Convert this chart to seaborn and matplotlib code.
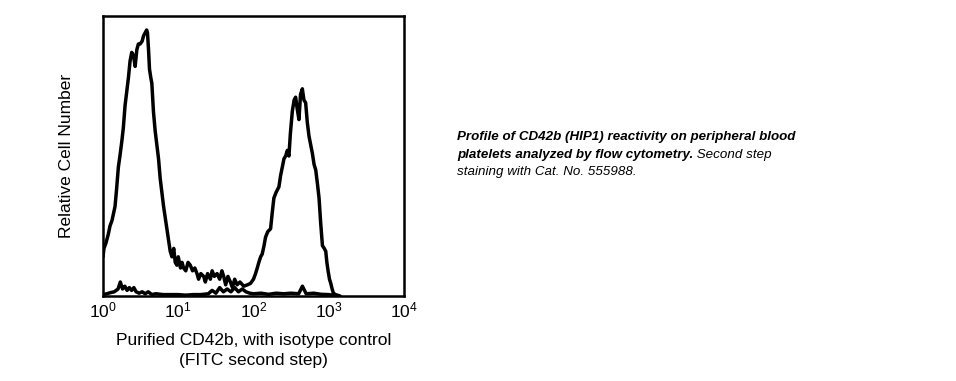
import matplotlib
matplotlib.use("Agg")
import matplotlib.pyplot as plt
import seaborn as sns
import numpy as np
import pandas as pd

# ---- data (log10 fluorescence position, relative cell number) ----
stained_log = [0.0, 0.013, 0.04, 0.07, 0.093, 0.12, 0.16, 0.18, 0.204, 0.225, 0.249, 0.27, 0.293, 0.315,
               0.338, 0.36, 0.382, 0.405, 0.427, 0.45, 0.47, 0.493, 0.52, 0.54, 0.56, 0.58, 0.591, 0.605,
               0.618, 0.635, 0.649, 0.67, 0.693, 0.715, 0.738, 0.76, 0.782, 0.805, 0.827, 0.85, 0.871,
               0.893, 0.916, 0.94, 0.96, 0.982, 1.0, 1.03, 1.05, 1.071, 1.1, 1.13, 1.16, 1.19, 1.22,
               1.249, 1.27, 1.30, 1.338, 1.36, 1.39, 1.427, 1.45, 1.48, 1.516, 1.55, 1.58, 1.604, 1.63,
               1.66, 1.693, 1.72, 1.75, 1.782, 1.82, 1.871, 1.92, 1.96, 2.0, 2.027, 2.05, 2.071, 2.095,
               2.116, 2.14, 2.16, 2.19, 2.227, 2.25, 2.271, 2.30, 2.338, 2.36, 2.382, 2.405, 2.427, 2.45,
               2.471, 2.49, 2.516, 2.54, 2.56, 2.58, 2.604, 2.625, 2.649, 2.67, 2.693, 2.715, 2.738, 2.76,
               2.782, 2.805, 2.827, 2.85, 2.871, 2.893, 2.916, 2.94, 2.96, 2.975, 2.991, 3.01, 3.027,
               3.045, 3.062, 3.09, 3.116, 3.15]
stained_val = [14, 17, 19, 22, 25, 27, 32, 38, 46, 50, 55, 60, 68, 73,
               78, 84, 87, 86, 82, 88, 90, 90, 91, 93, 94, 95, 94, 88,
               81, 78, 76, 66, 59, 54, 49, 42, 37, 32, 28, 24, 20,
               16, 14, 17, 12, 11, 14, 10, 12, 10, 9, 12, 11, 9, 10,
               8, 6, 8, 7, 5, 8, 6, 9, 7, 8, 6, 9, 7, 4,
               7, 5, 3, 6, 4, 5, 3.5, 4, 4.5, 6, 8, 10, 12, 14,
               15, 18, 21, 23, 24, 30, 35, 37, 39, 43, 46, 49, 50, 52,
               50, 58, 66, 70, 71, 67, 63, 72, 74, 70, 69, 62, 57, 54,
               51, 47, 45, 40, 35, 26, 18, 17, 16, 12, 9, 6, 4.5,
               2.5, 1, 0.5, 0.3, 0]

isotype_log = [0.0, 0.05, 0.1, 0.15, 0.2, 0.23, 0.26, 0.29, 0.32, 0.35, 0.38, 0.41, 0.44, 0.48, 0.52,
               0.56, 0.6, 0.65, 0.7, 0.8, 0.9, 1.0, 1.1, 1.2, 1.3, 1.4, 1.45, 1.5, 1.55, 1.6, 1.65,
               1.7, 1.75, 1.8, 1.85, 1.9, 1.95, 2.0, 2.1, 2.2, 2.3, 2.4, 2.5, 2.6, 2.65, 2.7, 2.8,
               2.9, 3.0, 3.05, 3.1]
isotype_val = [0.5, 0.8, 1.2, 1.5, 2.5, 5, 2.5, 3.5, 2, 3, 2, 3, 1.5, 1, 1.5,
               0.8, 1.5, 0.5, 0.8, 0.5, 0.5, 0.5, 0.3, 0.5, 0.5, 0.8, 2, 1, 3, 1.5, 2.5,
               1.5, 3, 1.5, 2.5, 1.5, 1, 0.8, 1, 0.6, 1, 0.8, 1, 0.8, 3.5, 0.8, 1,
               0.6, 0.5, 0.3, 0]

tick_values = [1, 10, 100, 1000, 10000]
tick_labels = [r"$10^0$", r"$10^1$", r"$10^2$", r"$10^3$", r"$10^4$"]

xlabel = "Purified CD42b, with isotype control\n(FITC second step)"
ylabel = "Relative Cell Number"
cap_bold1 = "Profile of CD42b (HIP1) reactivity on peripheral blood"
cap_bold2 = "platelets analyzed by flow cytometry."
cap_ital2 = " Second step"
cap_ital3 = "staining with Cat. No. 555988."

# ---- style ----
sns.set_style("white")
plt.rcParams["font.family"] = ["Liberation Sans", "DejaVu Sans"]
plt.rcParams["mathtext.fontset"] = "custom"
plt.rcParams["mathtext.rm"] = "Liberation Sans"
plt.rcParams["mathtext.it"] = "Liberation Sans:italic"
plt.rcParams["mathtext.default"] = "rm"
plt.rcParams["text.color"] = "black"
plt.rcParams["axes.labelcolor"] = "black"
plt.rcParams["xtick.color"] = "black"

df = pd.concat([
    pd.DataFrame({"x": np.power(10.0, stained_log), "y": stained_val, "series": "CD42b"}),
    pd.DataFrame({"x": np.power(10.0, isotype_log), "y": isotype_val, "series": "isotype"}),
])

fig = plt.figure(figsize=(9.56, 3.81), dpi=100)
ax = fig.add_axes([103 / 956, 1 - 296 / 381, 301 / 956, 280 / 381])

sns.lineplot(data=df, x="x", y="y", hue="series", palette=["black", "black"],
             linewidth=2.5, legend=False, ax=ax, estimator=None, sort=False)

ax.set_xscale("log")
ax.set_xlim(1, 10000)
ax.set_ylim(0, 100)
ax.set_xticks(tick_values)
ax.set_xticklabels(tick_labels, fontsize=12.5)
ax.minorticks_off()
ax.xaxis.set_minor_locator(matplotlib.ticker.NullLocator())
ax.set_yticks([])
ax.tick_params(axis="x", length=0, pad=3, colors="black")
ax.set_xlabel(xlabel, fontsize=12.5, labelpad=9, linespacing=1.45, color="black")
ax.set_ylabel(ylabel, fontsize=12.5, labelpad=21, color="black")
for s in ax.spines.values():
    s.set_visible(True)
    s.set_color("black")
    s.set_linewidth(1.8)

# ---- caption ----
cx = 457 / 956
fs = 9.6
fig.text(cx, 1 - 137 / 381, cap_bold1, fontsize=fs, fontweight="bold", fontstyle="italic", va="center")
t2 = fig.text(cx, 1 - 155 / 381, cap_bold2, fontsize=fs, fontweight="bold", fontstyle="italic", va="center")
ax.annotate(cap_ital2, xy=(1, 0.5), xycoords=t2, va="center", ha="left", fontsize=fs, fontstyle="italic")
fig.text(cx, 1 - 172 / 381, cap_ital3, fontsize=fs, fontstyle="italic", va="center")

fig.savefig("out.png", dpi=100)
